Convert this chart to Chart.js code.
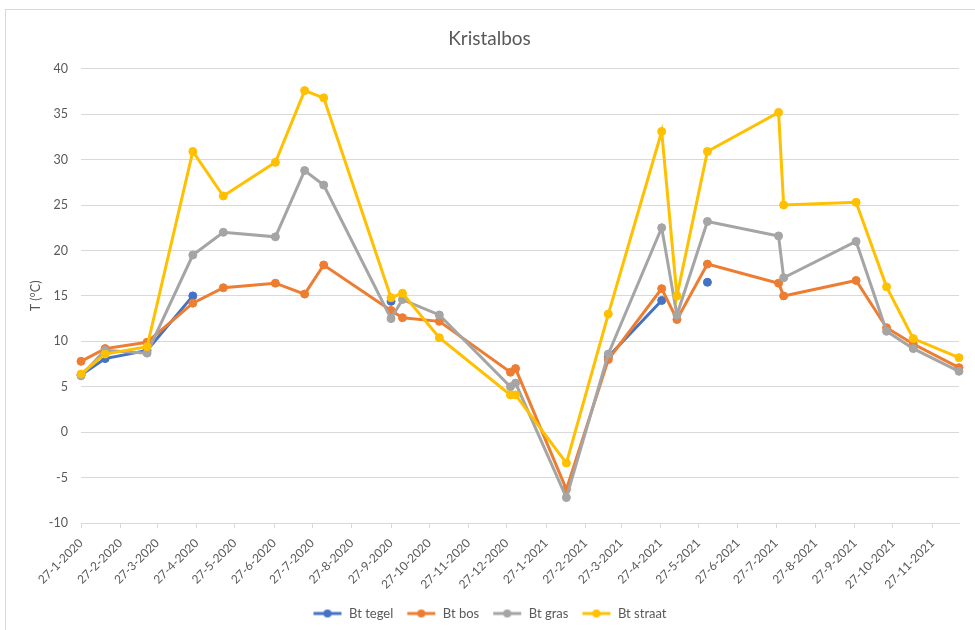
<!DOCTYPE html>
<html>
<head>
<meta charset="utf-8">
<title>Kristalbos</title>
<script src="https://cdn.jsdelivr.net/npm/chart.js@4.4.1/dist/chart.umd.min.js"></script>
<style>
  html, body { margin: 0; padding: 0; background: #fff; }
  #wrap { width: 975px; height: 630px; }
</style>
</head>
<body>
<div id="wrap"><canvas id="tempChart" width="975" height="630"></canvas></div>
<script>
// meetdata Kristalbos: datum per meting en temperatuur per ondergrond
const meetDatums = [
    '2020-01-27', '2020-02-15', '2020-03-19', '2020-04-24', '2020-05-18', '2020-06-28',
    '2020-07-21', '2020-08-05', '2020-09-27', '2020-10-06', '2020-11-04', '2020-12-30',
    '2021-01-03', '2021-02-12', '2021-03-17', '2021-04-28', '2021-05-10', '2021-06-03',
    '2021-07-29', '2021-08-02', '2021-09-28', '2021-10-22', '2021-11-12', '2021-12-18'
];
const btTegel = [6.3, 8.1, 9.0, 15.0, null, null, null, null, 14.4, null, null, null,
                 null, null, 8.3, 14.5, null, 16.5, null, null, null, null, null, null];
const btBos = [7.8, 9.2, 9.9, 14.2, 15.9, 16.4, 15.2, 18.4, 13.4, 12.6, 12.2, 6.6,
               7.0, -6.3, 8.0, 15.8, 12.4, 18.5, 16.4, 15.0, 16.7, 11.5, 9.7, 7.1];
const btGras = [6.2, 9.0, 8.7, 19.5, 22.0, 21.5, 28.8, 27.2, 12.5, 14.6, 12.9, 5.0,
                5.4, -7.2, 8.6, 22.5, 12.9, 23.2, 21.6, 17.0, 21.0, 11.1, 9.2, 6.7];
const btStraat = [6.4, 8.6, 9.4, 30.9, 26.0, 29.7, 37.6, 36.8, 14.8, 15.3, 10.4, 4.1,
                  4.1, -3.4, 13.0, 33.1, 15.0, 30.9, 35.2, 25.0, 25.3, 16.0, 10.3, 8.2];

// labels op de datum-as (elke maand op de 27e)
const asLabels = [
    '27-1-2020', '27-2-2020', '27-3-2020', '27-4-2020', '27-5-2020', '27-6-2020',
    '27-7-2020', '27-8-2020', '27-9-2020', '27-10-2020', '27-11-2020', '27-12-2020',
    '27-1-2021', '27-2-2021', '27-3-2021', '27-4-2021', '27-5-2021', '27-6-2021',
    '27-7-2021', '27-8-2021', '27-9-2021', '27-10-2021', '27-11-2021'
];

const reeksen = [
    { naam: 'Bt tegel', waarden: btTegel, kleur: '#4472C4' },
    { naam: 'Bt bos', waarden: btBos, kleur: '#ED7D31' },
    { naam: 'Bt gras', waarden: btGras, kleur: '#A5A5A5' },
    { naam: 'Bt straat', waarden: btStraat, kleur: '#FFC000' }
];

// dagen sinds de eerste meting (geen date-adapter nodig)
const basis = Date.UTC(2020, 0, 27);
function dagVanIso(s) {
    const [j, m, d] = s.split('-').map(Number);
    return (Date.UTC(j, m - 1, d) - basis) / 86400000;
}
function dagVanLabel(s) {
    const [d, m, j] = s.split('-').map(Number);
    return (Date.UTC(j, m - 1, d) - basis) / 86400000;
}
const meetDagen = meetDatums.map(dagVanIso);
const tickDagen = asLabels.map(dagVanLabel);

// klein legenda-icoontje: lijn met rondje, zoals in Excel
function legendaIcoon(kleur) {
    const c = document.createElement('canvas');
    c.width = 30; c.height = 10;
    const g = c.getContext('2d');
    g.strokeStyle = kleur;
    g.lineWidth = 3;
    g.beginPath();
    g.moveTo(1, 5); g.lineTo(29, 5);
    g.stroke();
    g.fillStyle = kleur;
    g.beginPath();
    g.arc(15, 5, 4, 0, Math.PI * 2);
    g.fill();
    return c;
}

const kaderPlugin = {
    id: 'kader',
    beforeDraw(chart) {
        const ctx = chart.ctx;
        ctx.save();
        ctx.fillStyle = '#fff';
        ctx.fillRect(0, 0, chart.width, chart.height);
        ctx.strokeStyle = '#D9D9D9';
        ctx.lineWidth = 1;
        ctx.strokeRect(5.5, 9.5, 1200, 1200);
        ctx.restore();
    }
};

const tekstKleur = '#595959';
Chart.defaults.font.family = 'Lato, "Open Sans", sans-serif';
Chart.defaults.color = tekstKleur;

const ctx = document.getElementById('tempChart').getContext('2d');
new Chart(ctx, {
    type: 'line',
    data: {
        datasets: reeksen.map((r, i) => ({
            label: r.naam,
            data: r.waarden.map((v, k) => ({ x: meetDagen[k], y: v })),
            borderColor: r.kleur,
            backgroundColor: r.kleur,
            pointBackgroundColor: r.kleur,
            pointBorderColor: r.kleur,
            borderWidth: 3,
            pointRadius: 4,
            pointBorderWidth: 1,
            tension: 0,
            spanGaps: false,
            clip: false,
            order: reeksen.length - 1 - i // laatste reeks bovenop
        }))
    },
    options: {
        responsive: false,
        animation: false,
        layout: { padding: { left: 20, right: 16, top: 0, bottom: 0 } },
        scales: {
            x: {
                type: 'linear',
                min: 0,
                max: meetDagen[meetDagen.length - 1],
                afterBuildTicks(scale) {
                    scale.ticks = tickDagen.map(v => ({ value: v }));
                },
                afterFit(scale) {
                    scale.height = 71;
                    scale.paddingLeft = 0;
                    scale.paddingRight = 0;
                },
                ticks: {
                    autoSkip: false,
                    minRotation: 45,
                    maxRotation: 45,
                    padding: 8,
                    font: { size: 12 },
                    callback(value) {
                        const i = tickDagen.indexOf(value);
                        return i >= 0 ? asLabels[i] : '';
                    }
                },
                grid: {
                    drawOnChartArea: false,
                    drawTicks: true,
                    tickLength: 5,
                    color: '#D9D9D9'
                },
                border: { color: '#D9D9D9', width: 1 }
            },
            y: {
                min: -10,
                max: 40,
                afterFit(scale) {
                    scale.width = 61;
                },
                ticks: {
                    stepSize: 5,
                    padding: 13,
                    font: { size: 12.5 }
                },
                grid: {
                    color: '#D9D9D9',
                    drawTicks: false
                },
                border: { display: false },
                title: {
                    display: true,
                    text: 'T (°C)',
                    font: { size: 12.5 },
                    color: tekstKleur,
                    padding: { top: 8, bottom: 0 }
                }
            }
        },
        plugins: {
            title: {
                display: true,
                text: 'Kristalbos',
                color: tekstKleur,
                font: { size: 19, weight: 'normal' },
                padding: { top: 27, bottom: 19 }
            },
            legend: {
                position: 'bottom',
                labels: {
                    usePointStyle: true,
                    pointStyleWidth: 30,
                    boxHeight: 10,
                    padding: 13,
                    font: { size: 13 },
                    color: tekstKleur,
                    generateLabels(chart) {
                        return chart.data.datasets.map((ds, i) => ({
                            text: ds.label,
                            fillStyle: ds.borderColor,
                            strokeStyle: ds.borderColor,
                            lineWidth: 0,
                            pointStyle: legendaIcoon(ds.borderColor),
                            hidden: !chart.isDatasetVisible(i),
                            datasetIndex: i,
                            fontColor: tekstKleur
                        }));
                    }
                }
            },
            tooltip: { enabled: false }
        }
    },
    plugins: [kaderPlugin]
});
</script>
</body>
</html>
